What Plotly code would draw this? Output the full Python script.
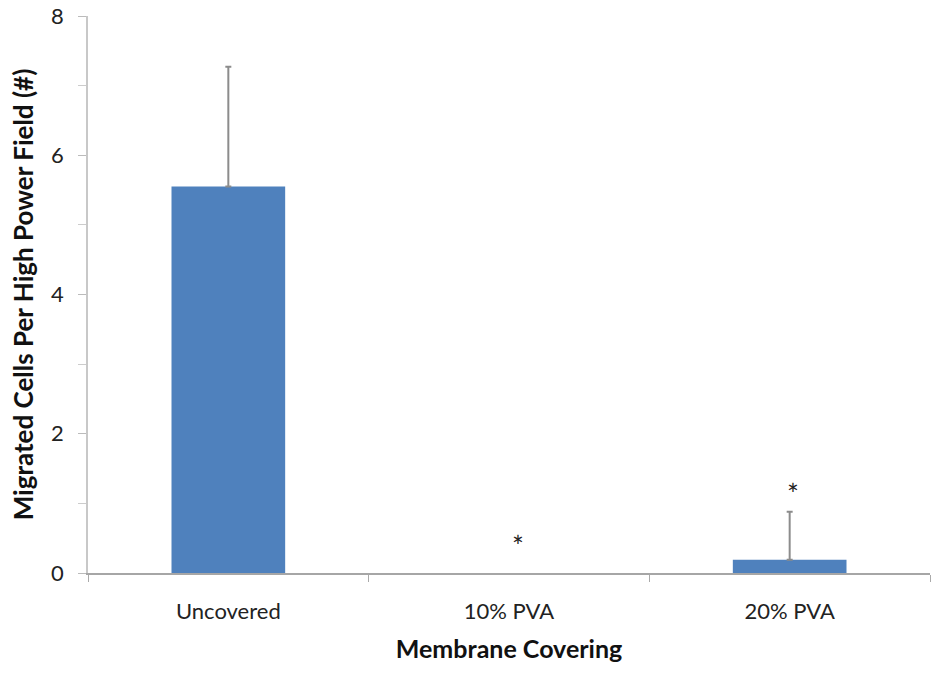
import plotly.graph_objects as go

# Migrated cells per high power field by membrane covering
categories = ["Uncovered", "10% PVA", "20% PVA"]
mean_cells = [5.55, 0.0, 0.19]
error_up = [1.72, None, 0.69]
sig_marker_y = [None, 0.39, 1.14]   # positions of significance asterisks
sig_marker_shift = [0, 9, 3]        # horizontal nudge of each asterisk, px
y_ticks = [0, 2, 4, 6, 8]

FONT = "Lato, Carlito, Calibri, sans-serif"
BAR_COLOR = "#4F81BD"

fig = go.Figure()
fig.add_trace(go.Bar(
    x=categories,
    y=mean_cells,
    width=0.405,
    marker=dict(color=BAR_COLOR, line=dict(width=0)),
    showlegend=False,
    hoverinfo="x+y",
))

# upper-only error bars, drawn just where an SD exists
err_idx = [i for i, e in enumerate(error_up) if e is not None]
fig.add_trace(go.Scatter(
    x=[categories[i] for i in err_idx],
    y=[mean_cells[i] for i in err_idx],
    mode="markers",
    marker=dict(size=1, color="rgba(0,0,0,0)"),
    error_y=dict(
        type="data",
        symmetric=False,
        array=[error_up[i] for i in err_idx],
        arrayminus=[0 for _ in err_idx],
        color="#8c8c8c",
        thickness=2,
        width=3,
    ),
    showlegend=False,
    hoverinfo="skip",
))

for cat, yy, dx in zip(categories, sig_marker_y, sig_marker_shift):
    if yy is None:
        continue
    fig.add_annotation(
        x=cat, y=yy, text="*", showarrow=False,
        font=dict(family=FONT, size=28, color="#222"),
        xshift=dx,
    )

fig.update_layout(
    width=932, height=676,
    margin=dict(l=88, r=2, t=14, b=103),
    plot_bgcolor="white",
    paper_bgcolor="white",
    font=dict(family=FONT, color="#222"),
)

fig.update_xaxes(
    type="category",
    range=[-0.5, 2.5],
    tickson="boundaries",
    ticks="outside",
    ticklen=7,
    tickcolor="#aaaaaa",
    showline=True,
    linecolor="#a6a6a6",
    linewidth=1.5,
    showgrid=False,
    ticklabelstandoff=18,
    tickfont=dict(size=22, family=FONT, color="#222"),
    title=dict(text="<b>Membrane Covering</b>", font=dict(size=25, family=FONT, color="#111"), standoff=17),
)

fig.update_yaxes(
    range=[0, 8],
    tickvals=y_ticks,
    ticks="outside",
    ticklen=8,
    tickcolor="#bbbbbb",
    showline=True,
    linecolor="#c8c8c8",
    linewidth=1.5,
    showgrid=False,
    zeroline=False,
    minor=dict(dtick=1, ticks="outside", ticklen=8, tickcolor="#cccccc", showgrid=False),
    ticklabelstandoff=10,
    ticklabeloverflow="allow",
    tickfont=dict(size=22, family=FONT, color="#222"),
    title=dict(text="<b>Migrated Cells Per High Power Field (#)</b>", font=dict(size=26, family=FONT, color="#111"), standoff=10),
)

fig.write_html("out.html")
